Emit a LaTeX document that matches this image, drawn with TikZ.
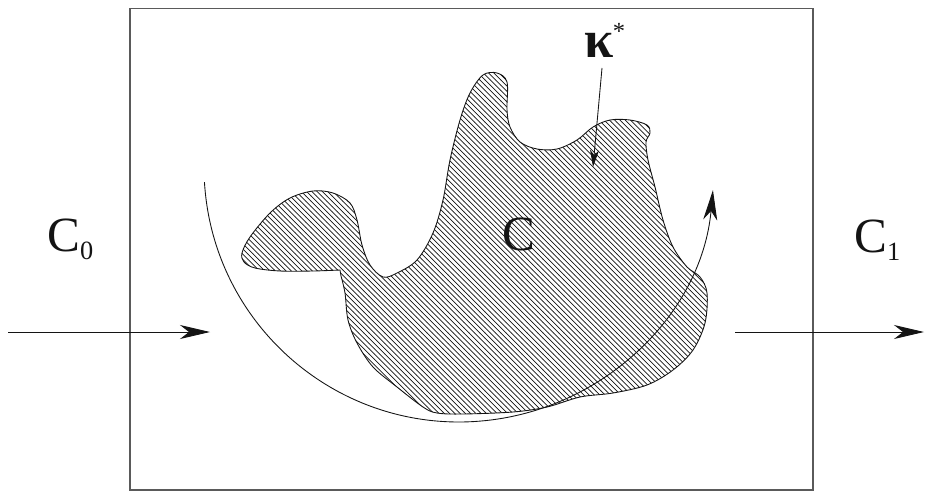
\documentclass[tikz,border=0pt]{standalone}
\usepackage{fontspec}
\setmainfont{Liberation Serif}
\usetikzlibrary{arrows.meta, patterns}
\definecolor{Frame}{RGB}{90, 90, 90}
\definecolor{Ink}{RGB}{20, 20, 20}
\tikzstyle{bigletter} = [font=\fontsize{28}{30}\selectfont, inner sep=0pt, anchor=base west, text=Ink]
\tikzstyle{arrow} = [-{Stealth[length=6mm, width=2.8mm, inset=1.8mm]}, line width=0.5pt, Ink]
\tikzstyle{smallarrow} = [-{Stealth[length=3.4mm, width=1.8mm, inset=1mm]}, line width=0.5pt, Ink]
\tikzstyle{region} = [draw=Ink, line width=0.5pt, pattern=north west lines, pattern color=Ink]
\newcommand{\lowidx}[1]{{\fontsize{15}{16}\selectfont\raisebox{-5pt}{#1}}}

\begin{document}
\begin{tikzpicture}[x=0.02cm, y=0.02cm]
\useasboundingbox (0,0) rectangle (925,491);

% Frame
\draw[Frame, line width=0.8pt] (130,1) rectangle (813,482.5);

% Hatched region
\draw[region] plot[smooth, tension=0.55] coordinates {
    (340,221) (313,220) (280,220) (255,223) (244,229) (242,238) (250,254)
    (270,278) (290,293) (313,300) (333,298) (350,288) (357,271) (362,246)
    (370,226) (383,214) (397,218) (417,231) (433,258) (443,291) (450,331)
    (460,371) (470,398) (483,416) (497,418) (507,409) (507,381) (510,364)
    (520,349) (537,342) (557,342) (577,351) (593,364) (610,371) (630,371)
    (647,366) (650,358) (646,349) (648,331) (655,304) (663,271) (673,244)
    (687,224) (700,214) (707,198) (705,168) (693,141) (673,121) (647,106)
    (613,98) (580,94) (547,84) (513,79) (463,77) (437,78) (423,84)
    (397,104) (373,124) (357,148) (348,171) (345,198) (341,215)} -- cycle;

% Labels
\node (c0) [bigletter] at (47,240) {C\lowidx{0}};
\node (c1) [bigletter] at (854,239) {C\lowidx{1}};
\node (c) [bigletter, anchor=base] at (519,241) {C};
\node (kappa) [bigletter, font=\fontsize{30}{32}\selectfont\bfseries] at (584,433) {κ};
\node (star) [inner sep=0pt, font=\fontsize{14}{16}\selectfont, text=Ink] at (619,460) {*};

% Flow in and out
\coordinate (inL) at (8,159);
\coordinate (inR) at (210,159);
\coordinate (outL) at (735,159);
\coordinate (outR) at (924,159);
\draw [arrow] (inL) -- (inR);
\draw [arrow] (outL) -- (outR);

% Pointer to the boundary
\coordinate (kfrom) at (602,423);
\coordinate (kto) at (593,324);
\draw [smallarrow] (kfrom) -- (kto);

% Sweep
\coordinate (ctr) at (459,324);
\draw [arrow] (ctr) ++(183.4:255) arc[start angle=183.4, end angle=354.8, radius=255];

\end{tikzpicture}
\end{document}
